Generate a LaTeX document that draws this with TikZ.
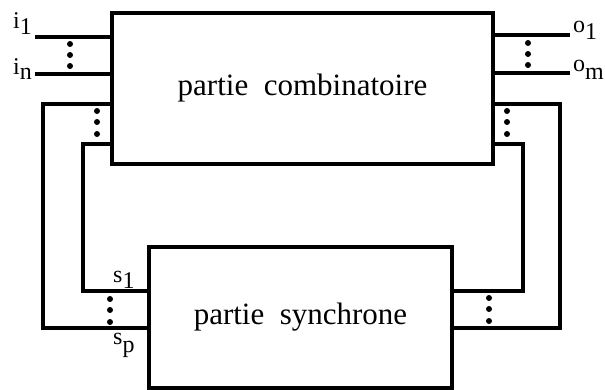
\documentclass[tikz,border=0pt]{standalone}
\usepackage{fontspec}
\setmainfont{Liberation Serif}
\begin{document}
\begin{tikzpicture}[x=1pt,y=-1pt,
  wire/.style={line width=3.2pt,line join=miter,line cap=rect},
  blockbox/.style={draw,line width=3.2pt,inner sep=0pt,font=\fontsize{31}{36}\selectfont},
  lbl/.style={inner sep=0pt,anchor=base west,font=\fontsize{24}{28}\selectfont},
  dotmark/.style={fill=black}]
\useasboundingbox (0,0) rectangle (605,389);
% blocks
\node[blockbox,minimum width=381pt,minimum height=151pt] (comb) at (302.5,88.5) {partie\ \ combinatoire};
\node[blockbox,minimum width=303pt,minimum height=141pt] (sync) at (300.5,317.5) {partie\ \ synchrone};
% free ends
\coordinate (i1) at (37,37);
\coordinate (in) at (37,74);
\coordinate (o1) at (568,35);
\coordinate (om) at (568,73);
% inputs / outputs
\draw[wire] (i1) -- (i1 -| comb.west);
\draw[wire] (in) -- (in -| comb.west);
\draw[wire] (o1 -| comb.east) -- (o1);
\draw[wire] (om -| comb.east) -- (om);
% left feedback
\coordinate (lA) at (43,104);
\coordinate (lB) at (83,144);
\draw[wire] (lA -| comb.west) -- (lA) |- (sync.west |- 0,328);
\draw[wire] (lB -| comb.west) -- (lB) |- (sync.west |- 0,291);
% right feedback
\coordinate (rA) at (560,104);
\coordinate (rB) at (523,144);
\draw[wire] (rA -| comb.east) -- (rA) |- (sync.east |- 0,328);
\draw[wire] (rB -| comb.east) -- (rB) |- (sync.east |- 0,291);
% dots
\foreach \x/\ya/\yb/\yc in {70/44/55/66, 528/43/54/65, 97/111/122/134, 507/111/122/134, 110/299/310/322, 489/298/309/321}{
  \fill[dotmark] (\x,\ya) circle (3pt);
  \fill[dotmark] (\x,\yb) circle (3pt);
  \fill[dotmark] (\x,\yc) circle (3pt);
}
% labels
\node[lbl] (li1) at (13,28) {i\lower6pt\hbox{1}};
\node[lbl] (lin) at (13,74) {i\lower5pt\hbox{n}};
\node[lbl] (lo1) at (573,32) {o\lower7pt\hbox{1}};
\node[lbl] (lom) at (573,71) {o\lower8pt\hbox{m}};
\node[lbl] (ls1) at (113,282) {s\lower6pt\hbox{1}};
\node[lbl] (lsp) at (113,344) {s\lower8pt\hbox{p}};
\end{tikzpicture}
\end{document}
